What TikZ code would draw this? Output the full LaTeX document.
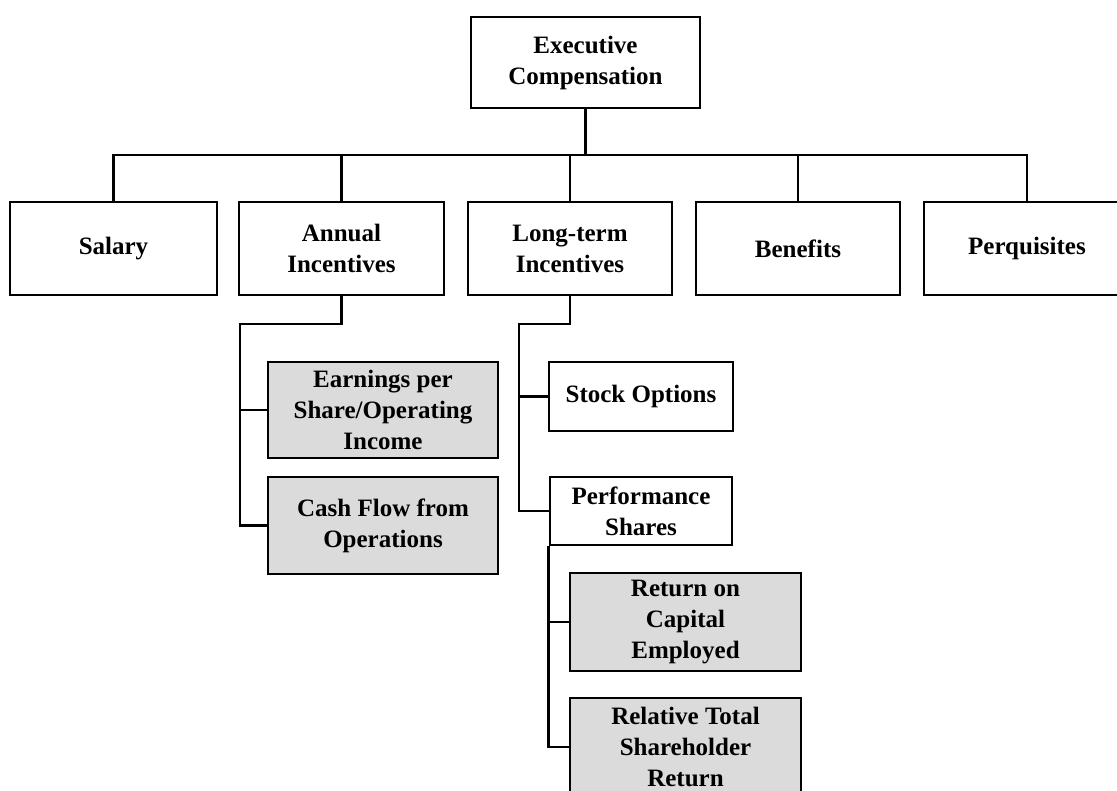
\documentclass[tikz,border=0pt]{standalone}
\usepackage{fontspec}
\setmainfont{Liberation Serif}
\begin{document}
\begin{tikzpicture}[x=1pt,y=-1pt,
  box/.style={draw=black, line width=2.7pt, fill=white, align=center,
    inner sep=0pt, font=\bfseries\fontsize{25}{31}\selectfont},
  shaded/.style={box, fill=black!14},
  conn/.style={line width=2.7pt, line join=miter}]
\useasboundingbox (0,0) rectangle (1117,791);
\clip (0,0) rectangle (1117,791);
\coordinate (bus) at (0,155);
\coordinate (a1) at (240,324);
\coordinate (l1) at (519,324);
% nodes
\node[box, minimum width=229pt, minimum height=91pt] (top) at (585.5,62.5) {Executive\\Compensation};
\node[box, minimum width=207pt, minimum height=93pt] (salary) at (113.5,248.5) {Salary};
\node[box, minimum width=205pt, minimum height=93pt] (annual) at (341.5,248.5) {Annual\\Incentives};
\node[box, minimum width=204pt, minimum height=93pt] (longterm) at (570,248.5) {Long-term\\Incentives};
\node[box, minimum width=204pt, minimum height=93pt] (benefits) at (798,248.5) {Benefits};
\node[box, minimum width=206pt, minimum height=93pt] (perq) at (1027,248.5) {Perquisites};
\node[shaded, minimum width=230pt, minimum height=96pt] (earn) at (383,410) {Earnings per\\Share/Operating\\Income};
\node[shaded, minimum width=230pt, minimum height=97pt] (cash) at (383,525.5) {Cash Flow from\\Operations};
\node[box, minimum width=184pt, minimum height=69pt] (stock) at (641,396.5) {Stock Options};
\node[box, minimum width=182pt, minimum height=68pt] (perf) at (641,511) {Performance\\Shares};
\node[shaded, minimum width=231pt, minimum height=98pt] (roce) at (685.5,622) {Return on\\Capital\\Employed};
\node[shaded, minimum width=231pt, minimum height=98pt] (rtsr) at (685.5,747) {Relative Total\\Shareholder\\Return};
% connectors
\draw[conn] (top.south) -- (top.south |- bus);
\draw[conn] (salary.north) -- (salary.north |- bus) -- (perq.north |- bus) -- (perq.north);
\draw[conn] (annual.north) -- (annual.north |- bus);
\draw[conn] (longterm.north) -- (longterm.north |- bus);
\draw[conn] (benefits.north) -- (benefits.north |- bus);
\draw[conn] (annual.south) |- (a1) -- (a1 |- cash.west) -- (cash.west);
\draw[conn] (a1 |- earn.west) -- (earn.west);
\draw[conn] (longterm.south) |- (l1) -- (l1 |- perf.west) -- (perf.west);
\draw[conn] (l1 |- stock.west) -- (stock.west);
\draw[conn] (perf.south west) -- (perf.south west |- rtsr.west) -- (rtsr.west);
\draw[conn] (perf.south west |- roce.west) -- (roce.west);
\end{tikzpicture}
\end{document}
